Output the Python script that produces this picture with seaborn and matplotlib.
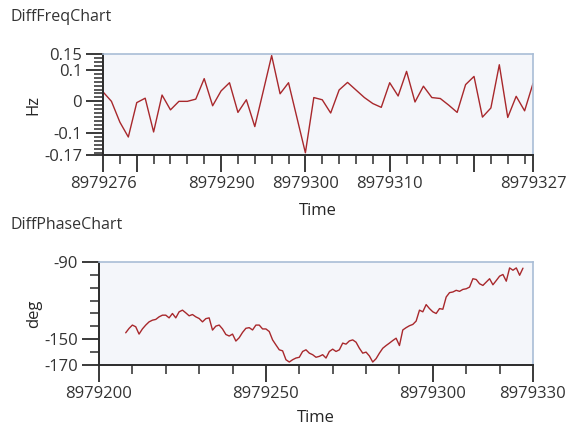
import numpy as np
import pandas as pd
import matplotlib
matplotlib.use("Agg")
import matplotlib.pyplot as plt
import seaborn as sns

# DiffFreqChart: one sample per second starting at 8979276
freq_start = 8979276
freq_hz = [0.03, 0.0, -0.066, -0.113, -0.004, 0.01, -0.097, 0.02, -0.027, 0.0,
           0.0, 0.007, 0.072, -0.014, 0.033, 0.059, -0.035, 0.005, -0.08, 0.032,
           0.145, 0.024, 0.059, -0.052, -0.163, 0.012, 0.005, -0.037, 0.036, 0.06,
           0.036, 0.012, -0.007, -0.019, 0.059, 0.017, 0.095, -0.002, 0.048, 0.012,
           0.009, -0.012, -0.035, 0.053, 0.079, -0.05, -0.021, 0.116, -0.051, 0.016,
           -0.03, 0.057]
freq_ticks = [8979276, 8979280, 8979290, 8979300, 8979310, 8979320, 8979327]
freq_labels = ["8979276", "", "8979290", "8979300", "8979310", "", "8979327"]
freq_yticks = [0.15, 0.1, 0, -0.1, -0.17]
freq_ylabels = ["0.15", "0.1", "0", "-0.1", "-0.17"]

# DiffPhaseChart: one sample per second starting at 8979208
phase_start = 8979208
phase_deg = [-145, -141.6, -139, -140.3, -146, -142, -139, -136.5, -135.2, -134.6,
             -132.6, -131.3, -131.3, -133.4, -130, -133.4, -128.7, -127.4, -129.5, -131.8,
             -130.8, -132.6, -133.9, -136.5, -134, -133.4, -142.9, -139.8, -139, -142,
             -146.3, -147.5, -146, -151.4, -148.8, -144.7, -141.5, -141, -142.8, -139,
             -139, -142, -142, -144, -150.5, -154.4, -158.2, -159, -165.9, -167.7,
             -165.9, -164.6, -164, -159.5, -158.2, -160.8, -162, -164, -163.3, -162,
             -164.6, -159.5, -157.7, -159.5, -158.2, -153, -153.8, -151.3, -150.5, -152.3,
             -157, -160.8, -160, -163, -167.7, -165.1, -160.8, -157, -154.9, -153,
             -151, -149.2, -154.9, -142.8, -141, -139.5, -138.5, -135.9, -127.4, -128.7,
             -123.1, -126.2, -128.7, -130, -126.2, -126.7, -117.2, -113.8, -113.3, -112,
             -112.8, -111.3, -110.8, -109.5, -103, -103.6, -106.9, -108.2, -105.6, -103,
             -107.7, -104.4, -101, -99.7, -104.9, -94.6, -96.4, -94.6, -100.3, -94.8]
phase_ticks = [8979200, 8979250, 8979300, 8979330]
phase_yticks = [-90, -150, -170]

line_color = "#a8282c"
frame_color = "#a9bdd6"
axis_color = "#2b2b2b"

sns.set_theme(style="white")
plt.rcParams["font.family"] = ["Open Sans", "DejaVu Sans"]
plt.rcParams["font.size"] = 12

freq_df = pd.DataFrame({"Time": freq_start + np.arange(len(freq_hz)), "Hz": freq_hz})
phase_df = pd.DataFrame({"Time": phase_start + np.arange(len(phase_deg)), "deg": phase_deg})

fig = plt.figure(figsize=(5.67, 4.29), dpi=100)
ax1 = fig.add_axes([0.1817, 0.6387, 0.7584, 0.2354])
ax2 = fig.add_axes([0.1746, 0.1492, 0.7654, 0.2401])


def style_axes(ax):
    ax.set_facecolor("#f4f6fa")
    for side in ["top", "right"]:
        ax.spines[side].set_color(frame_color)
        ax.spines[side].set_linewidth(1.2)
    for side in ["left", "bottom"]:
        ax.spines[side].set_color(axis_color)
        ax.spines[side].set_linewidth(1.4)
    ax.tick_params(which="major", length=12, width=1.3, color=axis_color,
                   labelsize=12, pad=3, left=True, bottom=True, labelcolor="#333333")
    ax.tick_params(which="minor", length=6.5, width=1.1, color=axis_color,
                   left=True, bottom=True)
    ax.xaxis.label.set_size(12)
    ax.yaxis.label.set_size(12)


sns.lineplot(data=freq_df, x="Time", y="Hz", ax=ax1, color=line_color, linewidth=1.0)
ax1.set_xlim(freq_start, 8979327)
ax1.set_ylim(-0.17, 0.15)
ax1.set_xticks(freq_ticks, freq_labels)
ax1.set_xticks(np.arange(freq_start, 8979327, 2), minor=True)
ax1.set_yticks(freq_yticks, freq_ylabels)
ax1.set_yticks(np.arange(-0.1625, 0.15, 0.0125), minor=True)
ax1.set_xlabel("Time", labelpad=8)
ax1.set_ylabel("Hz", labelpad=2)
style_axes(ax1)

sns.lineplot(data=phase_df, x="Time", y="deg", ax=ax2, color=line_color, linewidth=1.0)
ax2.set_xlim(8979200, 8979330)
ax2.set_ylim(-170, -90)
ax2.set_xticks(phase_ticks, [str(t) for t in phase_ticks])
ax2.set_xticks(np.arange(8979200, 8979331, 10), minor=True)
ax2.set_yticks(phase_yticks, [str(t) for t in phase_yticks])
ax2.set_yticks(np.arange(-170, -89, 10), minor=True)
ax2.set_xlabel("Time", labelpad=6)
ax2.set_ylabel("deg", labelpad=2)
style_axes(ax2)

fig.text(10 / 567, 1 - 17 / 429, "DiffFreqChart", fontsize=11.5, va="center", color="#333333")
fig.text(10 / 567, 1 - 225 / 429, "DiffPhaseChart", fontsize=11.5, va="center", color="#333333")

fig.savefig("out.png", dpi=100, facecolor="white")
